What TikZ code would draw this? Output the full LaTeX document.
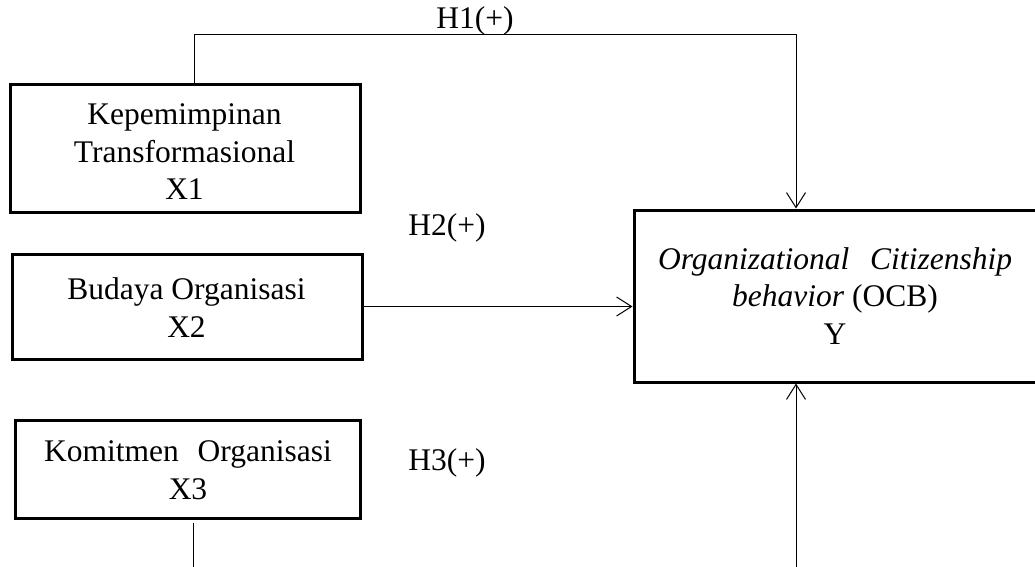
\documentclass[tikz,border=0pt]{standalone}
\usepackage{fontspec}
\setmainfont{Liberation Serif}
\usetikzlibrary{arrows.meta,calc}
\begin{document}
\begin{tikzpicture}[x=1pt,y=-1pt,
  varbox/.style={draw=black,line width=3pt,rectangle,inner sep=0pt},
  boxtext/.style={align=center,inner sep=0pt,font=\fontsize{31.5}{37.5}\selectfont},
  hlabel/.style={inner sep=0pt,anchor=base,font=\fontsize{31.5}{37.5}\selectfont},
  conn/.style={draw=black,line width=1pt},
  tip/.style={-{Straight Barb[length=15pt,width=19pt,line width=1pt]}}
]
\useasboundingbox (0,0) rectangle (1035,566);
% boxes
\node[varbox,minimum width=350pt,minimum height=128pt] (x1) at (185,148) {};
\node[varbox,minimum width=350pt,minimum height=105pt] (x2) at (187,306.5) {};
\node[varbox,minimum width=345pt,minimum height=98pt] (x3) at (187.5,469) {};
\node[varbox,minimum width=406pt,minimum height=172pt] (y) at (837,296) {};
% box texts
\node[boxtext] (x1t) at (184.5,151.75) {Kepemimpinan\\Transformasional\\X1};
\node[boxtext] (x2t) at (186.5,307.75) {Budaya Organisasi\\X2};
\node[boxtext] (x3t) at (188,470.25) {Komitmen\hspace{11pt} Organisasi\\X3};
\node[boxtext] (yt) at (835,295.75) {\textit{Organizational\hspace{13pt} Citizenship}\\\textit{behavior} (OCB)\\Y};
% labels
\node[hlabel] (h1) at (475,28) {H1(+)};
\node[hlabel] (h2) at (447,235) {H2(+)};
\node[hlabel] (h3) at (447,470) {H3(+)};
% connector coordinates
\coordinate (t1) at (194,34);
\coordinate (t2) at (796,34);
\coordinate (b1) at (193,585);
\coordinate (b2) at (796,585);
% connectors
\draw[conn,tip] (x1.north -| t1) -- (t1) -- (t2) -- (y.north -| t2);
\draw[conn,tip] (x2.east) -- (y.west |- x2.east);
\draw[conn,tip] ([yshift=-3pt]x3.south -| b1) -- (b1) -- (b2) -- (y.south -| b2);
\end{tikzpicture}
\end{document}
